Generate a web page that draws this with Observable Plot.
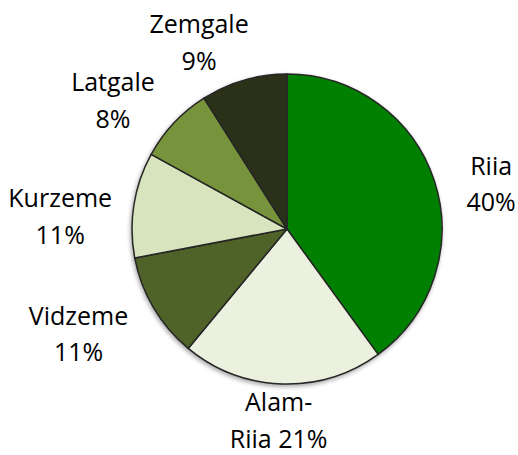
<!DOCTYPE html>
<html>
<head>
<meta charset="utf-8">
<script src="https://cdn.jsdelivr.net/npm/d3@7"></script>
<script src="https://cdn.jsdelivr.net/npm/@observablehq/plot@0.6"></script>
<style>
  html, body { margin: 0; padding: 0; background: #ffffff; }
  #chart svg { display: block; }
</style>
</head>
<body>
<div id="chart"></div>
<script>
// ---- data ----
const regions = ["Riia", "Alam-Riia", "Vidzeme", "Kurzeme", "Latgale", "Zemgale"];
const shares = [40, 21, 11, 11, 8, 9];
const labelTexts = ["Riia\n40%", "Alam-\nRiia 21%", "Vidzeme\n11%", "Kurzeme\n11%", "Latgale\n8%", "Zemgale\n9%"];
const colors = ["#008000", "#ebf1de", "#4f6228", "#d7e4bd", "#77933c", "#2a3118"];

// ---- layout (label placement around the pie, relative to slice mid-angle) ----
const labelRadius = [1.35, 1.215, 1.50, 1.47, 1.41, 1.35];
const labelAngleNudge = [4.7, 0.9, 4.6, -5, -6.2, -8.8]; // degrees

const W = 518, H = 455;
const CX = 287, CY = 229, R = 155;

const table = regions.map((name, i) => ({name, value: shares[i], label: labelTexts[i], color: colors[i]}));
const arcs = d3.pie().sort(null).value(d => d.value)(table);
const labelData = arcs.map((a, i) => {
  const mid = (a.startAngle + a.endAngle) / 2 + labelAngleNudge[i] * Math.PI / 180;
  return {
    label: a.data.label,
    x: labelRadius[i] * Math.sin(mid),
    y: labelRadius[i] * Math.cos(mid)
  };
});

function pieMark(index, scales) {
  const x = scales.x, y = scales.y;
  const cx = x(0), cy = y(0), r = x(1) - x(0);
  const arcGen = d3.arc().innerRadius(0).outerRadius(r);
  const g = d3.create("svg:g")
    .attr("transform", `translate(${cx},${cy})`)
    .style("filter", "drop-shadow(-1px 2px 2px rgba(0,0,0,0.35))");
  g.selectAll("path")
    .data(arcs)
    .join("path")
    .attr("d", arcGen)
    .attr("fill", d => d.data.color)
    .attr("stroke", "#262626")
    .attr("stroke-width", 1.5)
    .attr("stroke-linejoin", "round");
  return g.node();
}

const chart = Plot.plot({
  width: W,
  height: H,
  margin: 0,
  style: {background: "#ffffff", fontFamily: "'Open Sans', sans-serif"},
  x: {axis: null, domain: [-CX / R, (W - CX) / R]},
  y: {axis: null, domain: [-(H - CY) / R, CY / R]},
  marks: [
    pieMark,
    Plot.text(labelData, {
      x: "x",
      y: "y",
      text: "label",
      fontSize: 25,
      lineHeight: 1.46,
      fill: "#000000",
      textAnchor: "middle",
      fontFamily: "'Open Sans', sans-serif"
    })
  ]
});

document.getElementById("chart").appendChild(chart);
</script>
</body>
</html>
